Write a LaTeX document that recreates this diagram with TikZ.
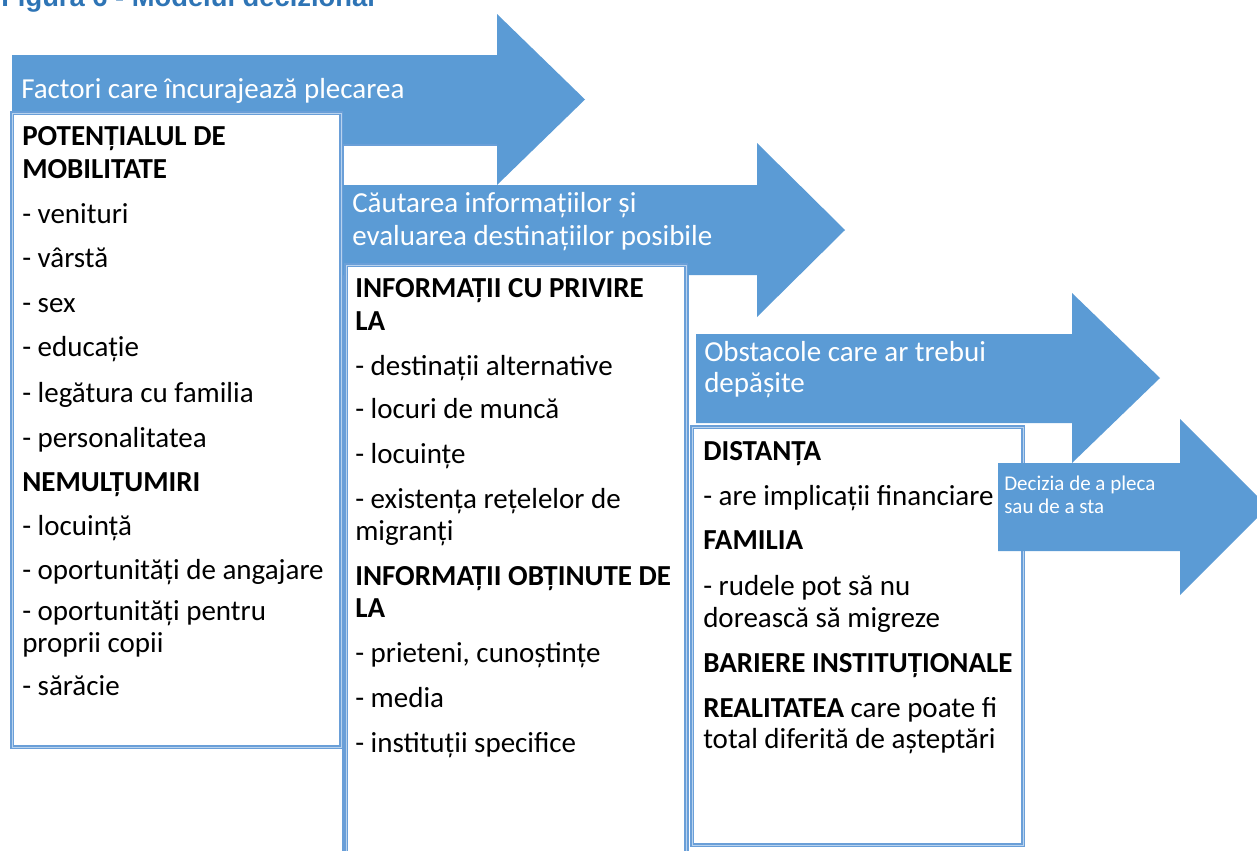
\documentclass[tikz,border=0pt]{standalone}
\usepackage{fontspec}
\setmainfont{Carlito}
\newfontfamily\titlefont{Liberation Sans}
\definecolor{arrowblue}{HTML}{5B9BD5}
\definecolor{bordblue}{HTML}{6A9FD8}
\definecolor{bordlight}{HTML}{B9D3EE}
\definecolor{titleblue}{HTML}{2E74B5}
\begin{document}
\begin{tikzpicture}[x=0.75pt,y=-0.75pt,
  arrowshape/.style={fill=arrowblue},
  box/.style={fill=white, draw=bordblue, line width=0.85pt, double=bordlight, double distance=0.7pt},
  frameline/.style={draw=bordblue, line width=1.5pt},
  txt/.style={anchor=base west, inner sep=0pt, font=\fontsize{21.75}{24.75}\selectfont},
  atxt/.style={txt, text=white},
  stxt/.style={anchor=base west, inner sep=0pt, text=white, font=\fontsize{15.75}{17}\selectfont},
]
\useasboundingbox (0,0) rectangle (1257,850);

% title (cut at top, as in the reference)
\node[anchor=base west, inner sep=0pt, text=titleblue, font=\titlefont\bfseries\fontsize{20.5}{24}\selectfont] (title) at (1,6) {Figura 6 - Modelul decizional};

% stage 1
\fill[arrowshape] (12,55) -- (497,55) -- (497,14) -- (585,99.5) -- (497,185) -- (497,144) -- (12,144) -- cycle;
\node[atxt] (a1) at (21,98) {Factori care încurajează plecarea};
\draw[box] (12,113) rectangle (341,747);
\node[txt] (b1a) at (22,145) {\textbf{POTENȚIALUL DE}};
\node[txt] (b1b) at (22,178) {\textbf{MOBILITATE}};
\node[txt] (b1c) at (22,223) {- venituri};
\node[txt] (b1d) at (22,267) {- vârstă};
\node[txt] (b1e) at (22,312) {- sex};
\node[txt] (b1f) at (22,356) {- educație};
\node[txt] (b1g) at (22,402) {- legătura cu familia};
\node[txt] (b1h) at (22,447) {- personalitatea};
\node[txt] (b1i) at (22,491) {\textbf{NEMULȚUMIRI}};
\node[txt] (b1j) at (22,535) {- locuință};
\node[txt] (b1k) at (22,579) {- oportunități de angajare};
\node[txt] (b1l) at (22,620) {- oportunități pentru};
\node[txt] (b1m) at (22,652) {proprii copii};
\node[txt] (b1n) at (22,695) {- sărăcie};

% stage 2
\draw[frameline] (497,145) -- (343,145) -- (343,860);
\fill[arrowshape] (343,185) -- (757,185) -- (757,143) -- (845,230) -- (757,317) -- (757,275) -- (343,275) -- cycle;
\node[atxt] (a2a) at (352,212) {Căutarea informațiilor și};
\node[atxt] (a2b) at (352,245) {evaluarea destinațiilor posibile};
\draw[box] (346,265) rectangle (686,860);
\node[txt] (b2a) at (355,297) {\textbf{INFORMAȚII CU PRIVIRE}};
\node[txt] (b2b) at (355,330) {\textbf{LA}};
\node[txt] (b2c) at (355,375) {- destinații alternative};
\node[txt] (b2d) at (355,418) {- locuri de muncă};
\node[txt] (b2e) at (355,463) {- locuințe};
\node[txt] (b2f) at (355,508) {- existența rețelelor de};
\node[txt] (b2g) at (355,540) {migranți};
\node[txt] (b2h) at (355,585) {\textbf{INFORMAȚII OBȚINUTE DE}};
\node[txt] (b2i) at (355,617) {\textbf{LA}};
\node[txt] (b2j) at (355,662) {- prieteni, cunoștințe};
\node[txt] (b2k) at (355,707) {- media};
\node[txt] (b2l) at (355,752) {- instituții specifice};

% stage 3
\draw[frameline] (688,275) -- (688,860);
\fill[arrowshape] (696,334) -- (1072,334) -- (1072,293) -- (1160,378) -- (1072,463) -- (1072,423) -- (696,423) -- cycle;
\node[atxt] (a3a) at (704,361) {Obstacole care ar trebui};
\node[atxt] (a3b) at (704,392) {depășite};
\draw[box] (692,427) rectangle (1023,845);
\node[txt] (b3a) at (703,460) {\textbf{DISTANȚA}};
\node[txt] (b3b) at (703,505) {- are implicații financiare};
\node[txt] (b3c) at (703,549) {\textbf{FAMILIA}};
\node[txt] (b3d) at (703,595) {- rudele pot să nu};
\node[txt] (b3e) at (703,627) {dorească să migreze};
\node[txt] (b3f) at (703,672) {\textbf{BARIERE INSTITUȚIONALE}};
\node[txt] (b3g) at (703,717) {\textbf{REALITATEA} care poate fi};
\node[txt] (b3h) at (703,748) {total diferită de așteptări};

% stage 4
\fill[arrowshape] (998,463) -- (1180,463) -- (1180,419) -- (1268,507) -- (1180,595) -- (1180,551) -- (998,551) -- cycle;
\node[stxt] (a4a) at (1004,490) {Decizia de a pleca};
\node[stxt] (a4b) at (1004,513) {sau de a sta};
\end{tikzpicture}
\end{document}
